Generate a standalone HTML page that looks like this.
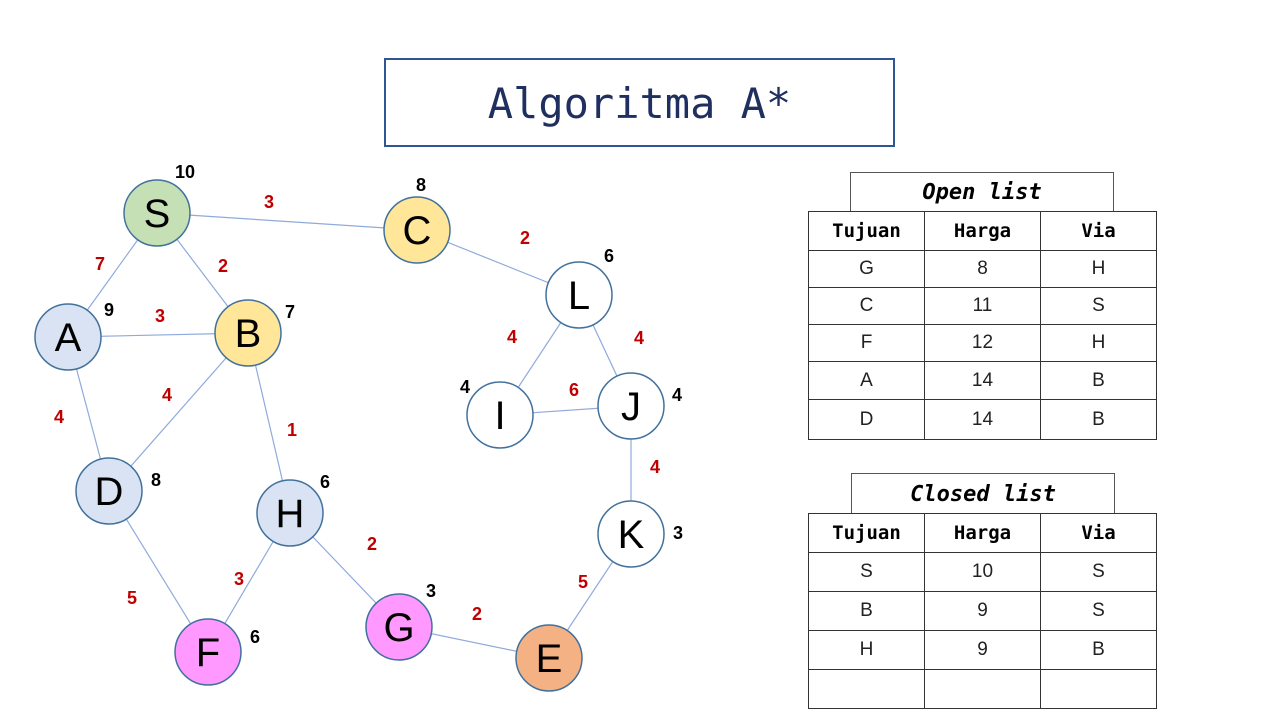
<!DOCTYPE html>
<html><head><style>
body{margin:0;width:1280px;height:720px;background:#fff;position:relative;font-family:"Liberation Sans",sans-serif;overflow:hidden}
.title{position:absolute;left:384px;top:58px;width:511px;height:89px;border:2px solid #2f5597;box-sizing:border-box;text-align:center;line-height:88px;font-family:"DejaVu Sans Mono","Liberation Mono",monospace;font-size:42px;color:#1f2f5f}
table{position:absolute;border-collapse:collapse;font-family:"Liberation Sans",sans-serif;table-layout:fixed;width:349px}
td{border:1.5px solid #333;text-align:center;font-size:19px;color:#222;padding:0}
th{border:1.5px solid #333;font-family:"DejaVu Sans Mono",monospace;font-weight:bold;font-size:19px}
.cap{position:absolute;border:1.5px solid #555;border-bottom:none;text-align:center;font-family:"DejaVu Sans Mono",monospace;font-style:italic;font-weight:bold;font-size:22px;box-sizing:border-box}
</style></head><body>
<div class="title">Algoritma A*</div>
<svg width="1280" height="720" style="position:absolute;left:0;top:0">
<g stroke="#8faadc" stroke-width="1.2">
<line x1="157" y1="213" x2="417" y2="230"/><line x1="157" y1="213" x2="68" y2="337"/><line x1="157" y1="213" x2="248" y2="333"/>
<line x1="68" y1="337" x2="248" y2="333"/><line x1="68" y1="337" x2="109" y2="491"/><line x1="248" y1="333" x2="109" y2="491"/>
<line x1="248" y1="333" x2="290" y2="513"/><line x1="109" y1="491" x2="208" y2="652"/><line x1="290" y1="513" x2="208" y2="652"/>
<line x1="290" y1="513" x2="399" y2="627"/><line x1="399" y1="627" x2="549" y2="658"/><line x1="549" y1="658" x2="631" y2="534"/>
<line x1="631" y1="534" x2="631" y2="406"/><line x1="631" y1="406" x2="500" y2="415"/><line x1="631" y1="406" x2="579" y2="295"/>
<line x1="500" y1="415" x2="579" y2="295"/><line x1="579" y1="295" x2="417" y2="230"/>
</g>
<g stroke="#41719c" stroke-width="1.5">
<circle cx="157" cy="213" r="33" fill="#c5e0b4"/><circle cx="417" cy="230" r="33" fill="#ffe699"/>
<circle cx="579" cy="295" r="33" fill="#fff"/><circle cx="68" cy="337" r="33" fill="#dae3f3"/>
<circle cx="248" cy="333" r="33" fill="#ffe699"/><circle cx="500" cy="415" r="33" fill="#fff"/>
<circle cx="631" cy="406" r="33" fill="#fff"/><circle cx="109" cy="491" r="33" fill="#dae3f3"/>
<circle cx="290" cy="513" r="33" fill="#dae3f3"/><circle cx="631" cy="534" r="33" fill="#fff"/>
<circle cx="208" cy="652" r="33" fill="#ff99ff"/><circle cx="399" cy="627" r="33" fill="#ff99ff"/>
<circle cx="549" cy="658" r="33" fill="#f4b183"/>
</g>
<g font-family="Liberation Sans" font-size="40" text-anchor="middle" fill="#000">
<text x="157" y="227">S</text><text x="417" y="244">C</text><text x="579" y="309">L</text><text x="68" y="351">A</text>
<text x="248" y="347">B</text><text x="500" y="429">I</text><text x="631" y="420">J</text><text x="109" y="505">D</text>
<text x="290" y="527">H</text><text x="631" y="548">K</text><text x="208" y="666">F</text><text x="399" y="641">G</text><text x="549" y="672">E</text>
</g>
<g font-family="Liberation Sans" font-size="18" font-weight="bold" fill="#000" text-anchor="middle">
<text x="185" y="178">10</text><text x="421" y="191">8</text><text x="609" y="262">6</text><text x="109" y="316">9</text>
<text x="290" y="318">7</text><text x="465" y="393">4</text><text x="677" y="401">4</text><text x="156" y="486">8</text>
<text x="325" y="488">6</text><text x="678" y="539">3</text><text x="255" y="643">6</text><text x="431" y="597">3</text>
</g>
<g font-family="Liberation Sans" font-size="18" font-weight="bold" fill="#c00000" text-anchor="middle">
<text x="269" y="208">3</text><text x="525" y="244">2</text><text x="100" y="270">7</text><text x="223" y="272">2</text>
<text x="160" y="322">3</text><text x="512" y="343">4</text><text x="639" y="344">4</text><text x="574" y="396">6</text>
<text x="167" y="401">4</text><text x="59" y="423">4</text><text x="292" y="436">1</text><text x="655" y="473">4</text>
<text x="372" y="550">2</text><text x="239" y="585">3</text><text x="583" y="588">5</text><text x="132" y="604">5</text><text x="477" y="620">2</text>
</g>
</svg>
<div class="cap" style="left:850px;top:172px;width:264px;height:40px;line-height:40px">Open list</div>
<table style="left:808px;top:211px">
<tr style="height:39px"><th>Tujuan</th><th>Harga</th><th>Via</th></tr>
<tr style="height:37px"><td>G</td><td>8</td><td>H</td></tr>
<tr style="height:37px"><td>C</td><td>11</td><td>S</td></tr>
<tr style="height:37px"><td>F</td><td>12</td><td>H</td></tr>
<tr style="height:38px"><td>A</td><td>14</td><td>B</td></tr>
<tr style="height:40px"><td>D</td><td>14</td><td>B</td></tr>
</table>
<div class="cap" style="left:851px;top:473px;width:264px;height:41px;line-height:41px">Closed list</div>
<table style="left:808px;top:513px">
<tr style="height:39px"><th>Tujuan</th><th>Harga</th><th>Via</th></tr>
<tr style="height:39px"><td>S</td><td>10</td><td>S</td></tr>
<tr style="height:39px"><td>B</td><td>9</td><td>S</td></tr>
<tr style="height:39px"><td>H</td><td>9</td><td>B</td></tr>
<tr style="height:39px"><td></td><td></td><td></td></tr>
</table>
</body></html>
